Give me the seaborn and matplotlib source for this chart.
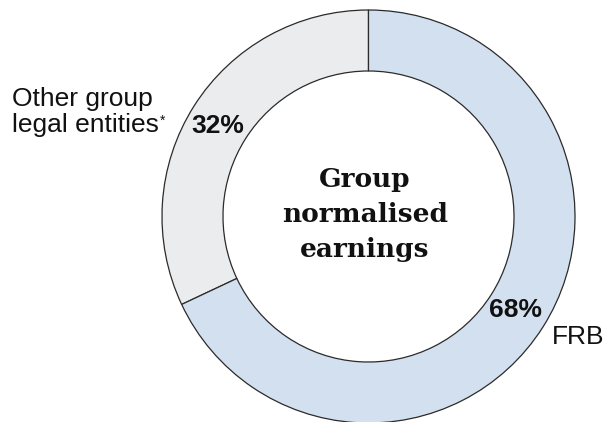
import matplotlib
matplotlib.use("Agg")
import matplotlib.pyplot as plt
import seaborn as sns

# share of group normalised earnings
segments = ["Other group legal entities", "FRB"]
shares = [32, 68]
seg_colors = ["#ebecee", "#d3e0ef"]
center_title = "Group\nnormalised\nearnings"

sns.set_theme(style="white")
plt.rcParams['font.family'] = ['Liberation Sans', 'DejaVu Sans']

W, H = 608, 422
cx, cy = 368.5, 216.5  # donut centre in pixels
r_out, r_in = 206.5, 145.5


def px(x, y):
    # pixel coords (from top-left) -> data coords
    return x - cx, cy - y


fig = plt.figure(figsize=(W / 100, H / 100), dpi=100)
ax = fig.add_axes([0, 0, 1, 1])

ax.pie(shares, colors=seg_colors, startangle=90, counterclock=True,
       radius=r_out,
       wedgeprops=dict(width=r_out - r_in, edgecolor="#2b2b2b", linewidth=0.9))

# pie() resets the limits, so fix them afterwards
ax.set_xlim(-cx, W - cx)
ax.set_ylim(-(H - cy), cy)
ax.set_aspect("equal")
ax.axis("off")

ax.text(*px(365, 215), center_title, ha="center", va="center", fontsize=19,
        fontweight="bold", family=["DejaVu Serif"],
        linespacing=1.5, color="#111111")

# percentage labels
ax.text(*px(218, 126), f"{shares[0]}%", ha="center", va="center",
        fontsize=19, fontweight="bold", color="#111111")
ax.text(*px(516, 310), f"{shares[1]}%", ha="center", va="center",
        fontsize=19, fontweight="bold", color="#111111")

# segment names
ax.text(*px(12, 112), "Other group\nlegal entities", ha="left", va="center",
        fontsize=19, linespacing=1.15, color="#111111")
ax.text(*px(160, 121), "*", ha="left", va="center", fontsize=10, color="#111111")
ax.text(*px(552, 337), segments[1], ha="left", va="center",
        fontsize=19, color="#111111")

fig.savefig("out.png", dpi=100)
